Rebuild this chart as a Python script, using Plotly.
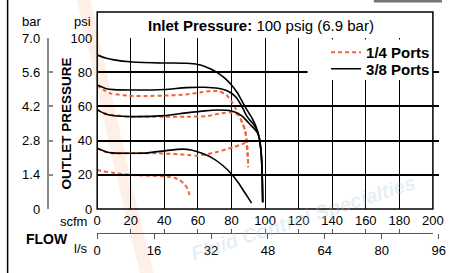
import plotly.graph_objects as go

# ---------------- data ----------------
scfm_ticks = [0, 20, 40, 60, 80, 100, 120, 140, 160, 180, 200]
lps_ticks = [0, 16, 32, 48, 64, 80, 96]
psi_ticks = [0, 20, 40, 60, 80, 100]
bar_ticks = [0, 1.4, 2.8, 4.2, 5.6, 7.0]
bar_labels = ["0", "1.4", "2.8", "4.2", "5.6", "7.0"]

# 1/4 Ports (orange dashed)
q1_scfm = [0, 4, 8, 19, 30, 40, 53, 62, 68, 73, 77, 80, 82, 84, 86.5, 88.2, 89.2, 89.7, 90]
q1_psi = [72.5, 69.5, 67.6, 66.2, 66.1, 66.3, 67.0, 68.3, 69.0, 68.8, 66.7, 63.0, 59.8, 55.5, 50.3, 45.5, 38.5, 31, 24.5]
q2_scfm = [0, 4, 9, 19, 40, 55, 64.5, 70, 74, 80, 84, 86.7, 88.2, 89.2, 89.7, 90]
q2_psi = [58, 56, 55, 54, 54, 54, 54.2, 55.2, 56, 56.5, 55, 50, 45.5, 38.5, 31, 24.5]
q3_scfm = [0, 5, 9, 21, 36, 48, 54, 58.6, 65, 72, 78, 82, 86, 88.4, 89.3, 89.7, 90]
q3_psi = [35.5, 33.5, 32.6, 32.6, 32.6, 32.0, 31.6, 31.2, 32.0, 33.5, 35.2, 36.4, 37.8, 38.6, 35, 31, 24.5]
q4_scfm = [0, 4, 9, 21, 36, 42, 46, 49, 52, 54, 55]
q4_psi = [22.8, 22, 21.2, 19.9, 19.3, 18.9, 18.3, 17, 14.5, 11.5, 8.2]

# 3/8 Ports (black solid)
h1_scfm = [0, 5, 10, 21, 40, 53, 60, 64.5, 68, 72, 76, 80, 83.5, 86.5, 89.5, 92.3, 94.5, 96.4, 97.7, 98.3, 98.6]
h1_psi = [90, 88.3, 87.2, 86, 85.4, 85.2, 84.5, 83.2, 81.7, 79.5, 76.5, 72.5, 68, 62.7, 57.5, 53, 48.5, 42.3, 32.7, 20, 4]
h2_scfm = [0, 5, 10, 21, 40, 53, 64, 72, 77, 80, 83, 85, 87, 88.7, 90.5, 92.5, 94.5, 96.4, 97.7, 98.3, 98.6]
h2_psi = [72.5, 70.5, 69.8, 69.6, 69.9, 71.0, 71.2, 70.6, 69.3, 67.7, 65.0, 62, 58.5, 55, 52.5, 50.3, 47.5, 42.3, 32.7, 20, 4]
h3_scfm = [0, 5, 10, 21, 40, 53, 64, 72, 80, 84, 86.7, 89, 91.5, 93.5, 95.2, 96.4, 97.7, 98.3, 98.6]
h3_psi = [58, 55.5, 54.5, 54, 54.6, 56.2, 57.4, 57.9, 57.3, 55.8, 54, 51.7, 49, 47, 45, 42.3, 32.7, 20, 4]
h4_scfm = [0, 5, 9, 21, 30, 42, 51, 56, 62, 68, 75, 80, 84, 87, 90, 92]
h4_psi = [35.5, 33.5, 32.8, 32.6, 32.8, 34.3, 35.0, 34.5, 32.8, 30.2, 25.3, 20.5, 15.5, 11, 6.5, 3.4]

# ---------------- layout geometry (pixels -> paper) ----------------
W, H = 453, 273
ML, MR, MT, MB = 30, 2, 38, 10
PW, PH = W - ML - MR, H - MT - MB


def px(x):
    return (x - ML) / PW


def py(y):
    return (H - MB - y) / PH


FONT = "Liberation Sans, Arial, Helvetica, sans-serif"
ORANGE = "#f0643a"

fig = go.Figure()

orange_sets = [(q1_scfm, q1_psi), (q2_scfm, q2_psi), (q3_scfm, q3_psi), (q4_scfm, q4_psi)]
black_sets = [(h1_scfm, h1_psi), (h2_scfm, h2_psi), (h3_scfm, h3_psi), (h4_scfm, h4_psi)]

for i, (xs, ys) in enumerate(orange_sets):
    fig.add_trace(go.Scatter(
        x=xs, y=ys, mode="lines", name="1/4 Ports",
        line=dict(color=ORANGE, width=2, dash="4px,3px", shape="spline", smoothing=0.6),
        showlegend=(i == 0), legend="legend", hoverinfo="skip"))

for i, (xs, ys) in enumerate(black_sets):
    fig.add_trace(go.Scatter(
        x=xs, y=ys, mode="lines", name="3/8 Ports",
        line=dict(color="black", width=1.6, shape="spline", smoothing=0.6),
        showlegend=(i == 0), legend="legend2", hoverinfo="skip"))

# empty traces so that the secondary axes are drawn
fig.add_trace(go.Scatter(x=[], y=[], xaxis="x2", yaxis="y", showlegend=False, hoverinfo="skip"))
fig.add_trace(go.Scatter(x=[], y=[], xaxis="x3", yaxis="y", showlegend=False, hoverinfo="skip"))
fig.add_trace(go.Scatter(x=[], y=[], xaxis="x", yaxis="y2", showlegend=False, hoverinfo="skip"))

xd0, xd1 = px(99), px(443.7)
x2d1 = px(99 + 96 * 344.7 / (200 * 0.4719))
yd0 = py(209)
flow_pos = py(233)

legend_font = dict(family=FONT, size=15, color="black", weight="bold")

fig.update_layout(
    width=W, height=H,
    margin=dict(l=ML, r=MR, t=MT, b=MB, pad=0),
    paper_bgcolor="white", plot_bgcolor="rgba(0,0,0,0)",
    font=dict(family=FONT, size=13, color="black"),
    xaxis=dict(domain=[xd0, xd1], range=[0, 200], tickvals=scfm_ticks,
               showgrid=True, gridcolor="black", gridwidth=1,
               zeroline=False, showline=False, ticks="", ticklabelstandoff=2,
               ticklabeloverflow="allow", tickfont=dict(size=13)),
    yaxis=dict(domain=[yd0, 1], range=[0, 100], tickvals=psi_ticks,
               showgrid=True, gridcolor="black", gridwidth=2,
               zeroline=False, showline=False, ticks="", ticklabelstandoff=4,
               tickfont=dict(size=13)),
    yaxis2=dict(overlaying="y", anchor="free", position=px(48), side="left",
                range=[0, 7], tickvals=bar_ticks, ticktext=bar_labels,
                showgrid=False, zeroline=False, showline=True, linecolor="#8a8a8a",
                linewidth=1.5, ticks="inside", ticklen=5, tickcolor="#8a8a8a",
                tickwidth=1.5, ticklabelstandoff=4, tickfont=dict(size=13)),
    xaxis2=dict(anchor="free", position=flow_pos, domain=[xd0, x2d1],
                range=[0, 96], tickvals=lps_ticks, showgrid=False, zeroline=False,
                showline=False, ticks="outside", ticklen=5, tickcolor="#555",
                tickwidth=1.2, tickfont=dict(size=13), ticklabelstandoff=0,
                ticklabeloverflow="allow"),
    xaxis3=dict(overlaying="x", anchor="free", position=flow_pos, side="bottom",
                range=[0, 200], tickvals=scfm_ticks, showgrid=False, zeroline=False,
                showline=True, linecolor="#555", linewidth=1.2, ticks="inside",
                ticklen=4, tickcolor="#555", tickwidth=1.2, showticklabels=False),
    legend=dict(x=px(334), y=py(36), xanchor="left", yanchor="top",
                bgcolor="rgba(0,0,0,0)", borderwidth=0, font=legend_font),
    legend2=dict(x=px(334), y=py(52.5), xanchor="left", yanchor="top",
                 bgcolor="rgba(0,0,0,0)", borderwidth=0, font=legend_font),
)

# watermark swoosh
fig.add_shape(type="path", xref="paper", yref="paper", layer="below",
              path="M {} {} L {} {} L {} {} L {} {} L {} {} L {} {} L {} {} L {} {} L {} {} L {} {} Z".format(
                  px(78), py(0), px(95), py(70), px(108), py(130), px(128), py(215),
                  px(143), py(273), px(157), py(273), px(142), py(215), px(122), py(130),
                  px(108), py(70), px(92), py(0)),
              line=dict(width=0), fillcolor="rgba(250,170,120,0.18)")
# white background behind the legend (hides gridlines there)
fig.add_shape(type="rect", xref="paper", yref="paper", layer="above",
              x0=px(315), x1=xd1, y0=py(80), y1=py(39.5),
              line=dict(width=0), fillcolor="white")
# frame (plot box + title box)
fig.add_shape(type="rect", xref="paper", yref="paper",
              x0=xd0, x1=xd1, y0=yd0, y1=py(12),
              line=dict(color="black", width=1.5), layer="above")
# page left border
fig.add_shape(type="line", xref="paper", yref="paper",
              x0=px(7), x1=px(7), y0=py(273), y1=py(0),
              line=dict(color="black", width=1.5))
# top-right cut-off element
fig.add_shape(type="rect", xref="paper", yref="paper",
              x0=px(383), x1=px(453), y0=py(2.5), y1=py(0),
              line=dict(width=0), fillcolor="#777")

ann = [
    dict(text="<b>Inlet Pressure:</b> 100 psig (6.9 bar)", x=px(267.5), y=py(25), size=15),
    dict(text="psi", x=px(83.5), y=py(22), size=13),
    dict(text="bar", x=px(32), y=py(22), size=13),
    dict(text="<b>FLOW</b>", x=px(47.5), y=py(239), size=14),
    dict(text="l/s", x=px(82.5), y=py(248), size=13),
]
for a in ann:
    fig.add_annotation(text=a["text"], x=a["x"], y=a["y"], xref="paper", yref="paper",
                       xanchor="center", yanchor="middle", showarrow=False,
                       font=dict(family=FONT, size=a["size"], color="black"))
fig.add_annotation(text="scfm", x=px(91), y=py(221), xref="paper", yref="paper",
                   xanchor="right", yanchor="middle", showarrow=False,
                   font=dict(family=FONT, size=13, color="black"))
fig.add_annotation(text="<b>OUTLET PRESSURE</b>", x=px(67), y=py(123.5), xref="paper",
                   yref="paper", xanchor="center", yanchor="middle", showarrow=False,
                   textangle=-90, font=dict(family=FONT, size=13.5, color="black"))
# watermark text
fig.add_annotation(text="<b><i>Fluid Control Specialties</i></b>", x=px(310), y=py(218),
                   xref="paper", yref="paper", xanchor="center", yanchor="middle",
                   showarrow=False, textangle=-18,
                   font=dict(family=FONT, size=20, color="rgba(170,200,220,0.3)"))

fig.write_html("out.html", post_script="document.body.style.margin='0';",
               config={"displayModeBar": False})
